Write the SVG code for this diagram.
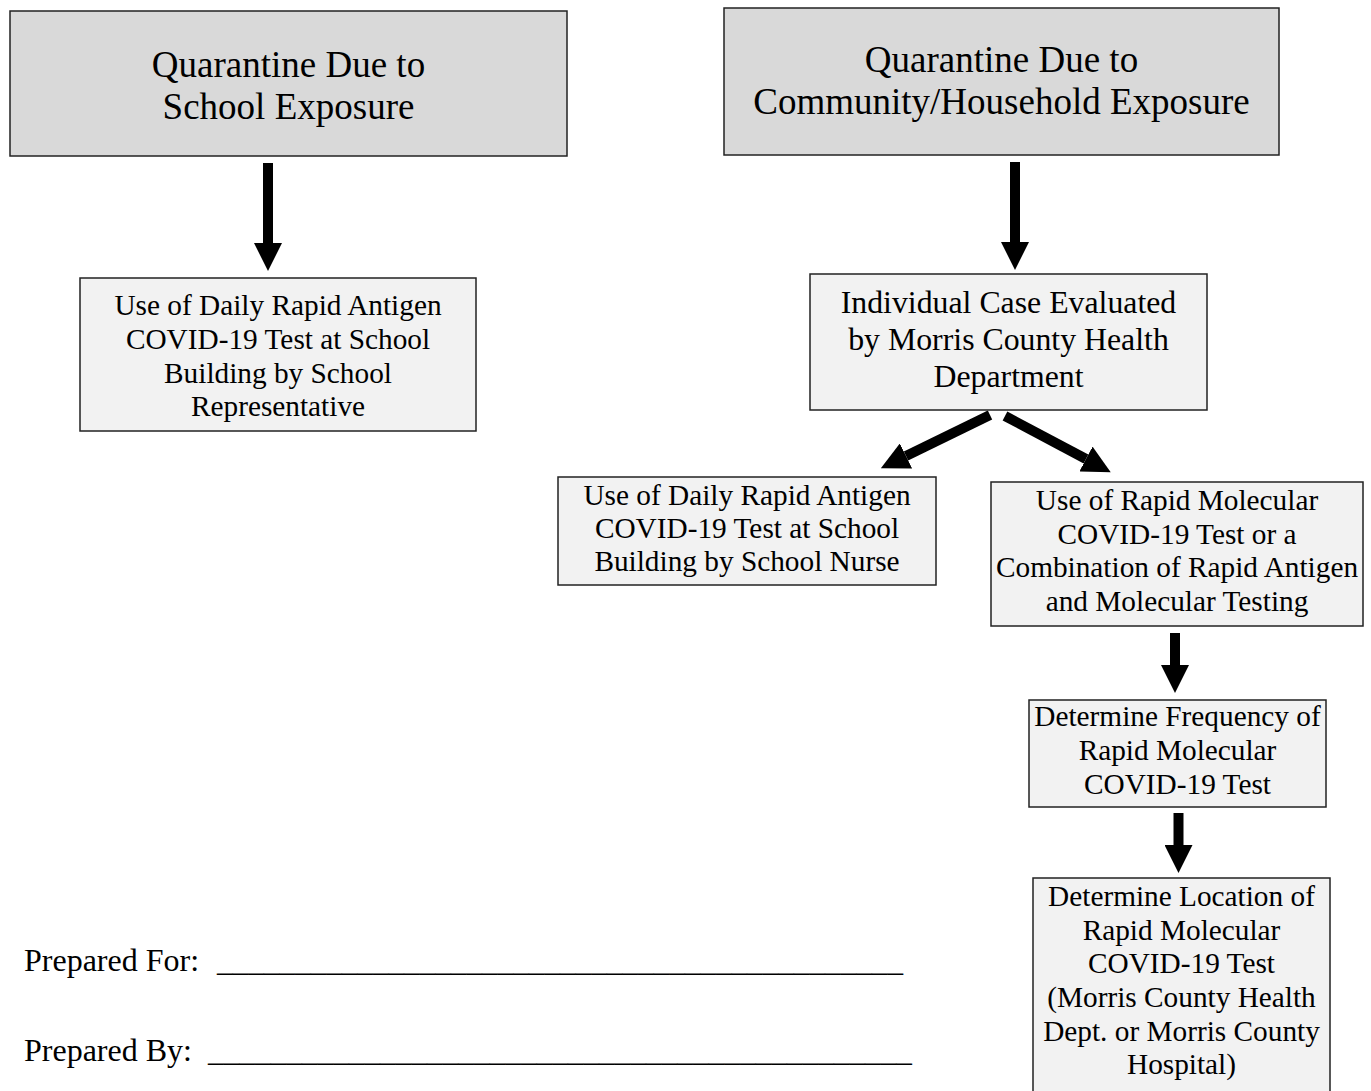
<svg xmlns="http://www.w3.org/2000/svg" width="1371" height="1091" viewBox="0 0 1371 1091">
<style>
.box{stroke:#222;stroke-width:1.5}
.title{fill:#d9d9d9}
.step{fill:#f2f2f2}
text{font-family:"Liberation Serif","Times New Roman",serif;fill:#000;text-anchor:middle}
.t37{font-size:37px}
.t31{font-size:31.8px}
.t29{font-size:29.3px}
.foot{font-size:32px;text-anchor:start}
.arrow{stroke:#000;stroke-width:10;fill:none;marker-end:url(#head)}
</style>
<defs>
<marker id="head" viewBox="0 0 28 28" markerWidth="28" markerHeight="28" refX="0" refY="14" orient="auto" markerUnits="userSpaceOnUse">
<path d="M0,0 L28,14 L0,28 z" fill="#000"/>
</marker>
</defs>
<rect width="1371" height="1091" fill="#fff"/>
<g id="connectors">
<line class="arrow" x1="268" y1="163" x2="268" y2="243"/>
<line class="arrow" x1="1015" y1="162" x2="1015" y2="242"/>
<line class="arrow" x1="990" y1="415" x2="906" y2="456"/>
<line class="arrow" x1="1005" y1="416" x2="1086" y2="459"/>
<line class="arrow" x1="1175" y1="633" x2="1175" y2="665"/>
<line class="arrow" x1="1178.5" y1="813" x2="1178.5" y2="845"/>
</g>
<g id="school-exposure">
<rect class="box title" x="10" y="11" width="557" height="145"/>
<text class="t37" x="288.5" y="77">Quarantine Due to</text>
<text class="t37" x="288.5" y="119">School Exposure</text>
</g>
<g id="community-exposure">
<rect class="box title" x="724" y="8" width="555" height="147"/>
<text class="t37" x="1001.5" y="72">Quarantine Due to</text>
<text class="t37" x="1001.5" y="114">Community/Household Exposure</text>
</g>
<g id="school-representative">
<rect class="box step" x="80" y="278" width="396" height="153"/>
<text class="t29" x="278" y="315">Use of Daily Rapid Antigen</text>
<text class="t29" x="278" y="349">COVID-19 Test at School</text>
<text class="t29" x="278" y="382.5">Building by School</text>
<text class="t29" x="278" y="416">Representative</text>
</g>
<g id="individual-case">
<rect class="box step" x="810" y="274" width="397" height="136"/>
<text class="t31" x="1008.5" y="313">Individual Case Evaluated</text>
<text class="t31" x="1008.5" y="350">by Morris County Health</text>
<text class="t31" x="1008.5" y="387">Department</text>
</g>
<g id="school-nurse">
<rect class="box step" x="558" y="477" width="378" height="108"/>
<text class="t29" x="747" y="505">Use of Daily Rapid Antigen</text>
<text class="t29" x="747" y="538">COVID-19 Test at School</text>
<text class="t29" x="747" y="571">Building by School Nurse</text>
</g>
<g id="rapid-molecular">
<rect class="box step" x="991" y="482" width="372" height="144"/>
<text class="t29" x="1177" y="510">Use of Rapid Molecular</text>
<text class="t29" x="1177" y="544">COVID-19 Test or a</text>
<text class="t29" x="1177" y="577">Combination of Rapid Antigen</text>
<text class="t29" x="1177" y="611">and Molecular Testing</text>
</g>
<g id="determine-frequency">
<rect class="box step" x="1029" y="700" width="297" height="107"/>
<text class="t29" x="1177.5" y="726">Determine Frequency of</text>
<text class="t29" x="1177.5" y="760">Rapid Molecular</text>
<text class="t29" x="1177.5" y="794">COVID-19 Test</text>
</g>
<g id="determine-location">
<rect class="box step" x="1033" y="878" width="297" height="230"/>
<text class="t29" x="1181.5" y="906">Determine Location of</text>
<text class="t29" x="1181.5" y="940">Rapid Molecular</text>
<text class="t29" x="1181.5" y="973">COVID-19 Test</text>
<text class="t29" x="1181.5" y="1007">(Morris County Health</text>
<text class="t29" x="1181.5" y="1041">Dept. or Morris County</text>
<text class="t29" x="1181.5" y="1074">Hospital)</text>
</g>
<g id="prepared">
<text class="foot" x="24" y="971">Prepared For:</text>
<text class="foot" x="217" y="971" textLength="686" lengthAdjust="spacingAndGlyphs">____________________________________________</text>
<text class="foot" x="24" y="1061">Prepared By:</text>
<text class="foot" x="208" y="1061" textLength="704" lengthAdjust="spacingAndGlyphs">_____________________________________________</text>
</g>
</svg>
